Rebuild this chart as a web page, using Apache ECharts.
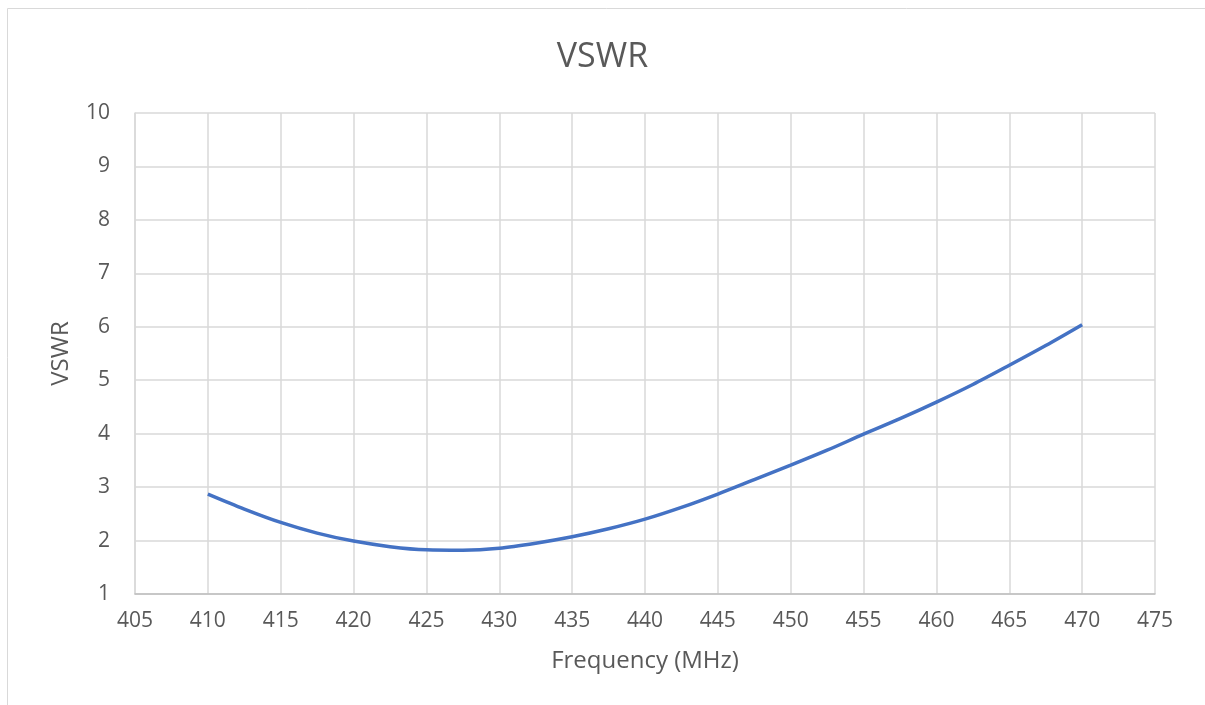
<!DOCTYPE html>
<html>
<head>
<meta charset="utf-8">
<script src="https://cdn.jsdelivr.net/npm/echarts@6/dist/echarts.min.js"></script>
<style>html,body{margin:0;padding:0;background:#fff}#c{width:1205px;height:705px}</style>
</head>
<body>
<div id="c"></div>
<script>
const frequency = [410, 412.5, 415, 417.5, 420, 422.5, 425, 427.5, 430, 432.5, 435, 437.5, 440, 442.5, 445, 447.5, 450, 452.5, 455, 457.5, 460, 462.5, 465, 467.5, 470];
const vswr = [2.87, 2.59, 2.34, 2.14, 1.99, 1.886, 1.826, 1.818, 1.855, 1.95, 2.07, 2.22, 2.40, 2.62, 2.87, 3.14, 3.41, 3.69, 3.99, 4.28, 4.59, 4.92, 5.28, 5.65, 6.04];
const xTicks = {min: 405, max: 475, interval: 5};
const yTicks = {min: 1, max: 10, interval: 1};

const font = '"Open Sans", "Noto Sans", sans-serif';
const chart = echarts.init(document.getElementById('c'));
chart.setOption({
  animation: false,
  textStyle: {fontFamily: font},
  graphic: [{
    type: 'rect', shape: {x: 7.5, y: 8.5, width: 1300, height: 800},
    style: {fill: 'none', stroke: '#d9d9d9', lineWidth: 1}, silent: true, z: -10
  }],
  title: {
    text: 'VSWR', left: 'center', top: 35,
    textStyle: {fontFamily: font, fontSize: 34, fontWeight: 'normal', color: '#595959'}
  },
  grid: {left: 135, right: 50, top: 113, bottom: 111, containLabel: false},
  xAxis: {
    type: 'value', min: xTicks.min, max: xTicks.max, interval: xTicks.interval,
    name: 'Frequency (MHz)', nameLocation: 'middle', nameGap: 55,
    nameTextStyle: {fontFamily: font, fontSize: 24, color: '#595959'},
    axisLine: {show: true, lineStyle: {color: '#bfbfbf', width: 1.5}},
    axisTick: {show: false},
    axisLabel: {fontFamily: font, fontSize: 21, color: '#595959', margin: 17},
    splitLine: {show: true, lineStyle: {color: '#d9d9d9', width: 1.5}}
  },
  yAxis: {
    type: 'value', min: yTicks.min, max: yTicks.max, interval: yTicks.interval,
    name: 'VSWR', nameLocation: 'middle', nameGap: 62, nameRotate: 90,
    nameTextStyle: {fontFamily: font, fontSize: 24, color: '#595959'},
    axisLine: {show: true, lineStyle: {color: '#d9d9d9', width: 1.5}},
    axisTick: {show: false},
    axisLabel: {fontFamily: font, fontSize: 21, color: '#595959', margin: 25},
    splitLine: {show: true, lineStyle: {color: '#d9d9d9', width: 1.5}}
  },
  series: [{
    type: 'line', data: frequency.map((f, i) => [f, vswr[i]]),
    smooth: 0.3, showSymbol: false,
    lineStyle: {color: '#4472C4', width: 3.5}
  }]
});
</script>
</body>
</html>
